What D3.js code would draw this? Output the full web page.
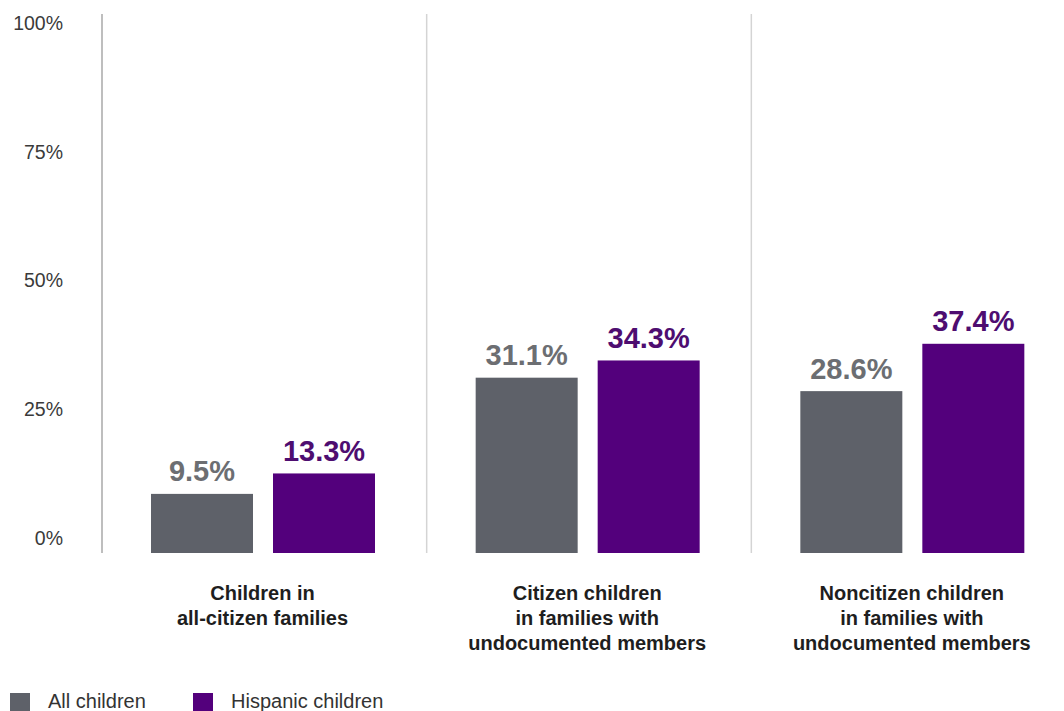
<!DOCTYPE html>
<html>
<head>
<meta charset="utf-8">
<script src="https://cdn.jsdelivr.net/npm/d3@7"></script>
<style>
  html, body { margin: 0; padding: 0; background: #fff; }
  svg { display: block; font-family: "Liberation Sans", Arial, sans-serif; }
</style>
</head>
<body>
<svg id="chart" width="1064" height="711"></svg>
<script>
// ---- data ----
const categories = ["Children in all-citizen families", "Citizen children in families with undocumented members", "Noncitizen children in families with undocumented members"];
const categoryLines = [
  ["Children in", "all-citizen families"],
  ["Citizen children", "in families with", "undocumented members"],
  ["Noncitizen children", "in families with", "undocumented members"]
];
const seriesNames = ["All children", "Hispanic children"];
const allChildren = [9.5, 31.1, 28.6];
const hispanicChildren = [13.3, 34.3, 37.4];
const valueLabels = [["9.5%", "31.1%", "28.6%"], ["13.3%", "34.3%", "37.4%"]];
const tickValues = [0, 25, 50, 75, 100];
const tickLabels = ["0%", "25%", "50%", "75%", "100%"];

const barColors = ["#5e6169", "#53007c"];
const labelColors = ["#6c6e72", "#4e0d70"];

const svg = d3.select("#chart");

// scales
const x0 = d3.scaleBand().domain(categories).range([101.5, 1075.5]).padding(0);
const x1 = d3.scaleBand().domain(seriesNames).range([49.5, 273.5]).paddingInner(20 / 122).paddingOuter(0);
const y = d3.scaleLinear().domain([0, 100]).range([545, 7]);
const yTick = d3.scaleLinear().domain([0, 100]).range([538, 23]);
const baseline = 553;

// dividers
svg.append("g").selectAll("line")
  .data(categories)
  .join("line")
  .attr("x1", d => x0(d) + 0.5)
  .attr("x2", d => x0(d) + 0.5)
  .attr("y1", 14)
  .attr("y2", baseline)
  .attr("stroke", (d, i) => i === 0 ? "#a8a8a8" : "#d4d4d4")
  .attr("stroke-width", 1.5);

// y axis labels
const yAxis = d3.axisLeft(yTick).tickValues(tickValues).tickSize(0).tickPadding(0)
  .tickFormat((d, i) => tickLabels[i]);
const yg = svg.append("g").attr("transform", "translate(63,0)").call(yAxis);
yg.select(".domain").remove();
yg.selectAll("text")
  .attr("font-family", "'Liberation Sans', Arial, sans-serif")
  .attr("font-size", 19.5)
  .attr("fill", "#3a3a3a");

// bars
const series = [allChildren, hispanicChildren];
const rows = [];
categories.forEach((c, ci) => {
  seriesNames.forEach((s, si) => {
    rows.push({ cat: c, ser: s, si, ci, value: series[si][ci], label: valueLabels[si][ci] });
  });
});

const g = svg.append("g");
g.selectAll("rect")
  .data(rows)
  .join("rect")
  .attr("x", d => x0(d.cat) + x1(d.ser))
  .attr("width", x1.bandwidth())
  .attr("y", d => y(d.value))
  .attr("height", d => baseline - y(d.value))
  .attr("fill", d => barColors[d.si]);

g.selectAll("text.val")
  .data(rows)
  .join("text")
  .attr("class", "val")
  .attr("x", d => x0(d.cat) + x1(d.ser) + x1.bandwidth() / 2)
  .attr("y", d => y(d.value) - 12.5)
  .attr("text-anchor", "middle")
  .attr("font-size", 29)
  .attr("font-weight", "bold")
  .attr("fill", d => labelColors[d.si])
  .text(d => d.label);

// category labels
const cg = svg.append("g");
categories.forEach((c, ci) => {
  const t = cg.append("text")
    .attr("x", x0(c) + 161)
    .attr("y", 600)
    .attr("text-anchor", "middle")
    .attr("font-size", 20)
    .attr("font-weight", "bold")
    .attr("fill", "#1e1e1e");
  categoryLines[ci].forEach((ln, li) => {
    t.append("tspan").attr("x", x0(c) + 161).attr("y", 600 + li * 25).text(ln);
  });
});

// legend
const legendX = [10, 193];
const lg = svg.append("g");
seriesNames.forEach((s, si) => {
  lg.append("rect").attr("x", legendX[si]).attr("y", 693).attr("width", 20).attr("height", 20).attr("fill", barColors[si]);
  lg.append("text").attr("x", legendX[si] + 38).attr("y", 708)
    .attr("font-size", 20).attr("fill", "#333").text(s);
});
</script>
</body>
</html>
